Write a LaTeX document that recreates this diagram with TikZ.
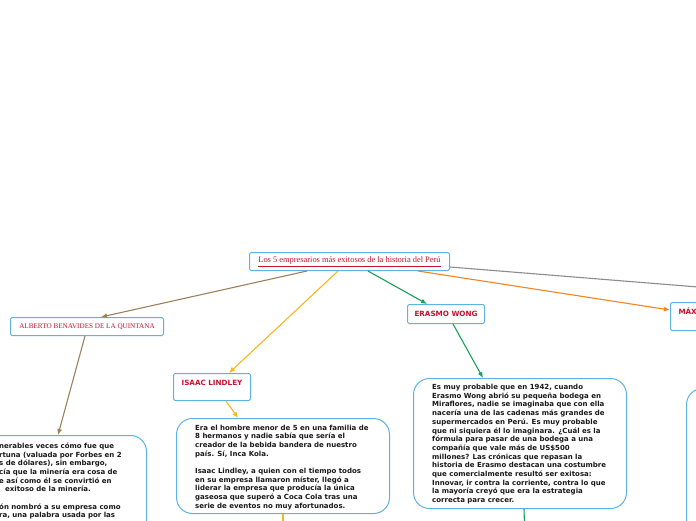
\documentclass[tikz,border=0pt]{standalone}
\usepackage{fontspec}
\setmainfont{DejaVu Sans}[BoldFont={DejaVu Sans Bold}]
\newfontfamily\titlefont{Liberation Serif}
\usetikzlibrary{arrows.meta,calc}
\definecolor{boxblue}{RGB}{94,178,230}
\definecolor{redtxt}{RGB}{200,18,48}
\definecolor{textdark}{RGB}{25,25,25}
\definecolor{cbrown}{RGB}{156,130,92}
\definecolor{cyellow}{RGB}{247,184,28}
\definecolor{cgreen}{RGB}{24,160,92}
\definecolor{corange}{RGB}{245,132,32}
\definecolor{cgray}{RGB}{140,140,140}
\begin{document}
\begin{tikzpicture}[x=1pt,y=-1pt,
  lbl/.style={draw=boxblue, line width=1pt, fill=white, rounded corners=1.5pt, inner sep=0pt},
  serifl/.style={font=\titlefont\fontsize{7.15}{9}\selectfont, text=redtxt},
  sansl/.style={font=\bfseries\fontsize{7.2}{8}\selectfont, text=redtxt},
  toptext/.style={text height=5pt, text depth=9pt},
  txtbox/.style={draw=boxblue, line width=1pt, fill=white, rounded corners=16pt, inner sep=0pt},
  body/.style={align=left, inner sep=0pt, text=textdark, font=\bfseries\fontsize{7}{8.7}\selectfont},
  conn/.style={line width=1.1pt, -{Latex[length=6pt,width=5pt]}}]
\useasboundingbox (0,0) rectangle (696,520);
\clip (0,0) rectangle (696,520);
\fill[white] (0,0) rectangle (696,520);

% label nodes
\node[lbl, serifl, font=\titlefont\fontsize{8.4}{10}\selectfont, minimum width=200pt, minimum height=18pt, anchor=north west] (title) at (249,252) {\underline{Los 5 empresarios más exitosos de la historia del Perú}};
\node[lbl, serifl, minimum width=153pt, minimum height=18pt, anchor=north west] (alberto) at (10,317) {ALBERTO BENAVIDES DE LA QUINTANA};
\node[lbl, sansl, toptext, minimum width=77pt, minimum height=27pt, anchor=north west] (isaac) at (173,373) {ISAAC LINDLEY};
\node[lbl, sansl, minimum width=77pt, minimum height=19pt, anchor=north west] (erasmo) at (407,304) {ERASMO WONG};
\node[lbl, sansl, toptext, minimum width=100pt, minimum height=28pt, text width=84pt, align=left, inner xsep=8pt, anchor=north west] (maximo) at (670,302) {MÁX};

% text boxes
\node[txtbox, minimum width=213pt, minimum height=150pt, anchor=north east] (albertotxt) at (147,435) {};
\node[txtbox, minimum width=213pt, minimum height=95pt, anchor=north west] (isaactxt) at (176,418) {};
\node[txtbox, minimum width=213pt, minimum height=130pt, anchor=north west] (erasmotxt) at (413,378) {};
\node[txtbox, minimum width=213pt, minimum height=150pt, anchor=north west] (righttxt) at (686,388) {};

\node[body, anchor=north west] (albertobody) at ($(albertotxt.north west)+(66,7.5)$) {%
nerables veces cómo fue que\\
rtuna (valuada por Forbes en 2\\
s de dólares), sin embargo,\\
cía que la minería era cosa de\\
e así como él se convirtió en\\
\hspace*{6pt}exitoso de la minería.\\[8.7pt]
ón nombró a su empresa como\\
ra, una palabra usada por las};

\node[body, anchor=north west] (isaacbody) at ($(isaactxt.north west)+(19,6.5)$) {%
Era el hombre menor de 5 en una familia de\\
8 hermanos y nadie sabía que sería el\\
creador de la bebida bandera de nuestro\\
país. Sí, Inca Kola.\\[8.7pt]
Isaac Lindley, a quien con el tiempo todos\\
en su empresa llamaron míster, llegó a\\
liderar la empresa que producía la única\\
gaseosa que superó a Coca Cola tras una\\
serie de eventos no muy afortunados.};

\node[body, anchor=north west] (erasmobody) at ($(erasmotxt.north west)+(19,6)$) {%
Es muy probable que en 1942, cuando\\
Erasmo Wong abrió su pequeña bodega en\\
Miraflores, nadie se imaginaba que con ella\\
nacería una de las cadenas más grandes de\\
supermercados en Perú. Es muy probable\\
que ni siquiera él lo imaginara. ¿Cuál es la\\
fórmula para pasar de una bodega a una\\
compañía que vale más de US\$500\\
millones? Las crónicas que repasan la\\
historia de Erasmo destacan una costumbre\\
que comercialmente resultó ser exitosa:\\
Innovar, ir contra la corriente, contra lo que\\
la mayoría creyó que era la estrategia\\
correcta para crecer.};

% free ends
\coordinate (isaacdown) at (283,540);
\coordinate (erasmodown) at (525,540);
\coordinate (grayend) at (760,292);

% connectors
\draw[conn, cbrown] ($(title.south west)+(58,0)$) -- ($(alberto.north west)+(91,0)$);
\draw[conn, cbrown] ($(alberto.south west)+(75,0)$) -- ($(albertotxt.north east)+(-89,0)$);
\draw[conn, cyellow] ($(title.south west)+(89,0)$) -- ($(isaac.north west)+(56,0)$);
\draw[conn, cyellow] ($(isaac.south west)+(53,0)$) -- ($(isaactxt.north west)+(62,0)$);
\draw[line width=1.1pt, cyellow] ($(isaactxt.south west)+(107,0)$) -- (isaacdown);
\draw[conn, cgreen] ($(title.south west)+(119,0)$) -- ($(erasmo.north west)+(20,0)$);
\draw[conn, cgreen] ($(erasmo.south west)+(46,0)$) -- ($(erasmotxt.north west)+(70,0)$);
\draw[line width=1.1pt, cgreen] ($(erasmotxt.south west)+(111,0)$) -- (erasmodown);
\draw[conn, corange] ($(title.south west)+(169,0)$) -- ($(maximo.north west)+(0,8)$);
\draw[line width=1.1pt, cgray] ($(title.south east)+(0,-4)$) -- (grayend);
\end{tikzpicture}
\end{document}
